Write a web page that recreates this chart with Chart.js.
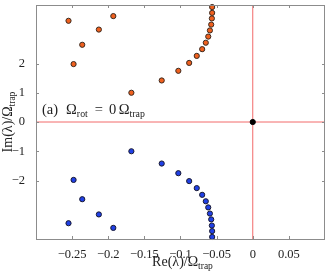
<!DOCTYPE html>
<html lang="en">
<head>
    <meta charset="UTF-8">
    <title>Eigenvalues</title>
    <style>
        html, body { margin: 0; padding: 0; background: #fff; }
        #box { width: 330px; height: 273px; }
    </style>
</head>
<body>
    <div id="box"><canvas id="myChart"></canvas></div>
    <script src="https://cdn.jsdelivr.net/npm/chart.js"></script>
    <script>
        // eigenvalues (upper branch, the lower one is its mirror)
        const reVals = [-0.255, -0.248, -0.236, -0.213, -0.193, -0.168, -0.126, -0.103, -0.088,
                        -0.0775, -0.070, -0.065, -0.0616, -0.0593, -0.0575, -0.0566, -0.0562, -0.0562];
        const imUpper = [3.46, 1.98, 2.64, 3.16, 3.62, 1.00, 1.42, 1.75, 2.02,
                         2.26, 2.49, 2.71, 2.92, 3.13, 3.33, 3.54, 3.73, 3.93];
        const imLower = [-3.46, -1.98, -2.64, -3.16, -3.62, -1.00, -1.42, -1.75, -2.02,
                         -2.26, -2.49, -2.71, -2.92, -3.13, -3.33, -3.54, -3.73, -3.93];
        const zeroRe = [0];
        const zeroIm = [0];
        const xTicks = [-0.25, -0.2, -0.15, -0.1, -0.05, 0, 0.05];
        const yTicks = [-2, -1, 0, 1, 2];

        const serif = "'Liberation Serif', 'Times New Roman', serif";

        function toPoints(xs, ys) {
            let out = [];
            for (let i = 0; i < xs.length; i++) out.push({x: xs[i], y: ys[i]});
            return out;
        }
        function fmt(v) {
            let s = String(Math.abs(v));
            return v < 0 ? "\u2212" + s : s;
        }

        // draws text made of parts: [text, isSubscript] or a number = extra gap in px
        function richText(ctx, parts, x, y, size, align) {
            let w = 0;
            parts.forEach(p => {
                if (typeof p === "number") { w += p; return; }
                ctx.font = (p[1] ? size * 0.68 : size) + "px " + serif;
                w += ctx.measureText(p[0]).width;
            });
            let cx = align === "center" ? x - w / 2 : x;
            parts.forEach(p => {
                if (typeof p === "number") { cx += p; return; }
                ctx.font = (p[1] ? size * 0.68 : size) + "px " + serif;
                ctx.fillText(p[0], cx, p[1] ? y + size * 0.22 : y);
                cx += ctx.measureText(p[0]).width;
            });
        }

        const frame = {
            id: "frame",
            beforeDatasetsDraw(chart) {
                const {ctx, chartArea: a, scales: {x, y}} = chart;
                ctx.save();
                // red lines through origin
                ctx.strokeStyle = "#f26a6a";
                ctx.lineWidth = 1;
                ctx.beginPath();
                ctx.moveTo(a.left, y.getPixelForValue(0));
                ctx.lineTo(a.right, y.getPixelForValue(0));
                ctx.moveTo(x.getPixelForValue(0), a.top);
                ctx.lineTo(x.getPixelForValue(0), a.bottom);
                ctx.stroke();
                ctx.restore();
            },
            afterDraw(chart) {
                const {ctx, chartArea: a, scales: {x, y}} = chart;
                ctx.save();
                ctx.strokeStyle = "#8c8c8c";
                ctx.lineWidth = 1;
                ctx.strokeRect(a.left + 0.5, a.top + 0.5, a.right - a.left - 1, a.bottom - a.top);
                ctx.beginPath();
                xTicks.forEach(v => {
                    let px = Math.round(x.getPixelForValue(v)) + 0.5;
                    ctx.moveTo(px, a.bottom); ctx.lineTo(px, a.bottom - 3);
                    ctx.moveTo(px, a.top); ctx.lineTo(px, a.top + 3);
                });
                yTicks.forEach(v => {
                    let py = Math.round(y.getPixelForValue(v)) + 0.5;
                    ctx.moveTo(a.left, py); ctx.lineTo(a.left + 3, py);
                    ctx.moveTo(a.right, py); ctx.lineTo(a.right - 3, py);
                });
                ctx.stroke();

                ctx.fillStyle = "#222";
                ctx.textBaseline = "alphabetic";
                ctx.textAlign = "left";
                richText(ctx, [["Re(\u03bb)/\u03a9", false], ["trap", true]],
                    (a.left + a.right) / 2 + 2, 266, 14, "center");
                richText(ctx, [["(a)", false], 8, ["\u03a9", false], ["rot", true], 7, ["=", false], 6,
                               ["0", false], 2.5, ["\u03a9", false], ["trap", true]],
                    a.left + 6, 114, 14.5, "left");

                ctx.translate(12, (a.top + a.bottom) / 2);
                ctx.rotate(-Math.PI / 2);
                richText(ctx, [["Im(\u03bb)/\u03a9", false], ["trap", true]], 0, 0, 14, "center");
                ctx.restore();
            }
        };

        const ctx = document.getElementById("myChart");

        new Chart(ctx, {
            type: "scatter",
            data: {
                datasets: [
                    {
                        data: toPoints(reVals, imUpper),
                        backgroundColor: "#f0601e",
                        borderColor: "#3a2a20",
                        borderWidth: 1,
                        pointRadius: 2.6
                    },
                    {
                        data: toPoints(reVals, imLower),
                        backgroundColor: "#2040e6",
                        borderColor: "#1a1a30",
                        borderWidth: 1,
                        pointRadius: 2.6
                    },
                    {
                        data: toPoints(zeroRe, zeroIm),
                        backgroundColor: "#000",
                        borderColor: "#000",
                        borderWidth: 1,
                        pointRadius: 2.6
                    }
                ]
            },
            options: {
                responsive: true,
                maintainAspectRatio: false,
                animation: false,
                events: [],
                clip: false,
                layout: { padding: { left: 0, right: 2.5, top: 4, bottom: 0 } },
                plugins: {
                    legend: { display: false },
                    tooltip: { enabled: false }
                },
                scales: {
                    x: {
                        type: "linear",
                        min: -0.3,
                        max: 0.1,
                        afterBuildTicks: s => { s.ticks = xTicks.map(v => ({value: v})); },
                        afterFit: s => { s.height = 34; s.paddingLeft = 0; s.paddingRight = 0; },
                        grid: { display: false },
                        border: { display: false },
                        ticks: {
                            color: "#222",
                            padding: 0,
                            maxRotation: 0,
                            autoSkip: false,
                            font: { family: serif, size: 12.5 },
                            callback: v => fmt(v)
                        }
                    },
                    y: {
                        type: "linear",
                        min: -4,
                        max: 4,
                        afterBuildTicks: s => { s.ticks = yTicks.map(v => ({value: v})); },
                        afterFit: s => { s.width = 36; s.paddingTop = 0; s.paddingBottom = 0; },
                        grid: { display: false },
                        border: { display: false },
                        ticks: {
                            color: "#222",
                            padding: 3,
                            autoSkip: false,
                            font: { family: serif, size: 12.5 },
                            callback: v => fmt(v)
                        }
                    }
                }
            },
            plugins: [frame]
        });
    </script>
</body>
</html>
